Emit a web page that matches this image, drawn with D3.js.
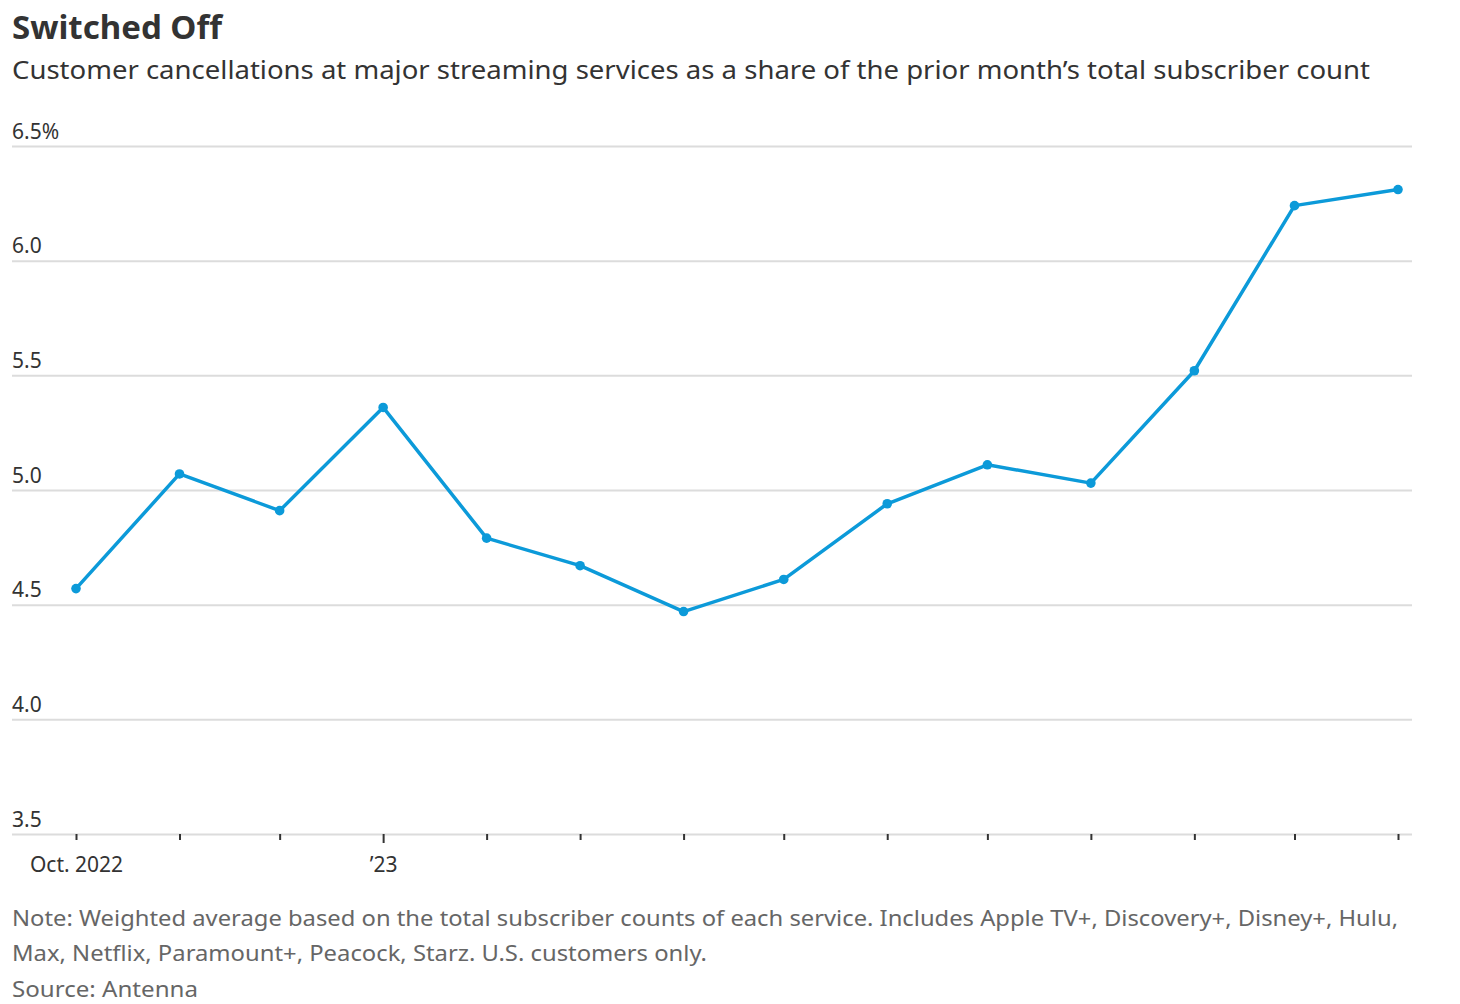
<!DOCTYPE html>
<html>
<head>
<meta charset="utf-8">
<script src="https://cdn.jsdelivr.net/npm/d3@7"></script>
<style>
  body { margin: 0; background: #fff; }
  svg text { font-family: "Noto Sans", sans-serif; }
</style>
</head>
<body>
<div id="chart"></div>
<script>
var months = ['2022-10', '2022-11', '2022-12', '2023-01', '2023-02', '2023-03', '2023-04',
  '2023-05', '2023-06', '2023-07', '2023-08', '2023-09', '2023-10', '2023-11'];
var churn = [4.57, 5.07, 4.91, 5.36, 4.79, 4.67, 4.47, 4.61, 4.94, 5.11, 5.03, 5.52, 6.24, 6.31];
var yTicks = [3.5, 4.0, 4.5, 5.0, 5.5, 6.0, 6.5];
var xLabels = { '2022-10': 'Oct. 2022', '2023-01': '\u201923' };

var width = 1460;
var height = 1004;
var parseMonth = d3.timeParse('%Y-%m');
var fmtMonth = d3.timeFormat('%Y-%m');
var dates = months.map(parseMonth);

var svg = d3.select('#chart')
  .append('svg')
  .attr('width', width)
  .attr('height', height);

// Title block
svg.append('text')
  .attr('x', 12).attr('y', 39)
  .attr('font-size', 32).attr('font-weight', 700)
  .attr('fill', '#333')
  .attr('textLength', 210).attr('lengthAdjust', 'spacingAndGlyphs')
  .text('Switched Off');

svg.append('text')
  .attr('x', 12).attr('y', 79)
  .attr('font-size', 26)
  .attr('fill', '#333')
  .attr('textLength', 1358).attr('lengthAdjust', 'spacingAndGlyphs')
  .text('Customer cancellations at major streaming services as a share of the prior month\u2019s total subscriber count');

var x = d3.scaleTime()
  .domain(d3.extent(dates))
  .range([76, 1398]);

var y = d3.scaleLinear()
  .domain([3.5, 6.5])
  .range([834, 146]);

// y grid + labels
var yAxis = d3.axisLeft(y)
  .tickValues(yTicks)
  .tickSize(0)
  .tickFormat(d => d === 6.5 ? '6.5%' : d3.format('.1f')(d));

var yGroup = svg.append('g').attr('class', 'y-axis');
yGroup.call(yAxis);
yGroup.select('.domain').remove();
yGroup.selectAll('.tick line').remove();
yGroup.selectAll('.tick')
  .append('line')
  .attr('x1', 12).attr('x2', 1412)
  .attr('stroke', '#dcdcdc')
  .attr('stroke-width', 2);
yGroup.selectAll('.tick text')
  .attr('x', 12)
  .attr('dy', -8)
  .attr('text-anchor', 'start')
  .attr('font-size', 21)
  .attr('fill', '#333')
  .style('font-family', '"Noto Sans", sans-serif');

// x axis ticks, one per month
var xAxis = d3.axisBottom(x)
  .tickValues(dates)
  .tickSize(7)
  .tickFormat(d => xLabels[fmtMonth(d)] || '');
var xGroup = svg.append('g')
  .attr('class', 'x-axis')
  .attr('transform', 'translate(0,834)');
xGroup.call(xAxis);
xGroup.select('.domain').remove();
xGroup.selectAll('.tick line')
  .attr('stroke', '#333')
  .attr('stroke-width', 2)
  .attr('y2', d => fmtMonth(d) === '2023-01' ? 9 : 6);
xGroup.selectAll('.tick text')
  .attr('y', 38)
  .attr('dy', 0)
  .attr('font-size', 21)
  .attr('fill', '#333')
  .style('font-family', '"Noto Sans", sans-serif');

// line
var line = d3.line()
  .x((d, i) => x(dates[i]))
  .y(d => y(d));

svg.append('path')
  .datum(churn)
  .attr('fill', 'none')
  .attr('stroke', '#0c9ad9')
  .attr('stroke-width', 3.5)
  .attr('stroke-linejoin', 'round')
  .attr('d', line);

svg.selectAll('circle.pt')
  .data(churn)
  .enter()
  .append('circle')
  .attr('class', 'pt')
  .attr('cx', (d, i) => x(dates[i]))
  .attr('cy', d => y(d))
  .attr('r', 4.8)
  .attr('fill', '#0c9ad9');

// Notes
var notes = [
  { t: 'Note: Weighted average based on the total subscriber counts of each service. Includes Apple TV+, Discovery+, Disney+, Hulu,', y: 926, w: 1386 },
  { t: 'Max, Netflix, Paramount+, Peacock, Starz. U.S. customers only.', y: 961, w: 695 },
  { t: 'Source: Antenna', y: 997, w: 186 }
];
svg.selectAll('text.note')
  .data(notes)
  .enter()
  .append('text')
  .attr('class', 'note')
  .attr('x', 12)
  .attr('y', d => d.y)
  .attr('font-size', 22)
  .attr('fill', '#666')
  .attr('textLength', d => d.w)
  .attr('lengthAdjust', 'spacingAndGlyphs')
  .text(d => d.t);
</script>
</body>
</html>
